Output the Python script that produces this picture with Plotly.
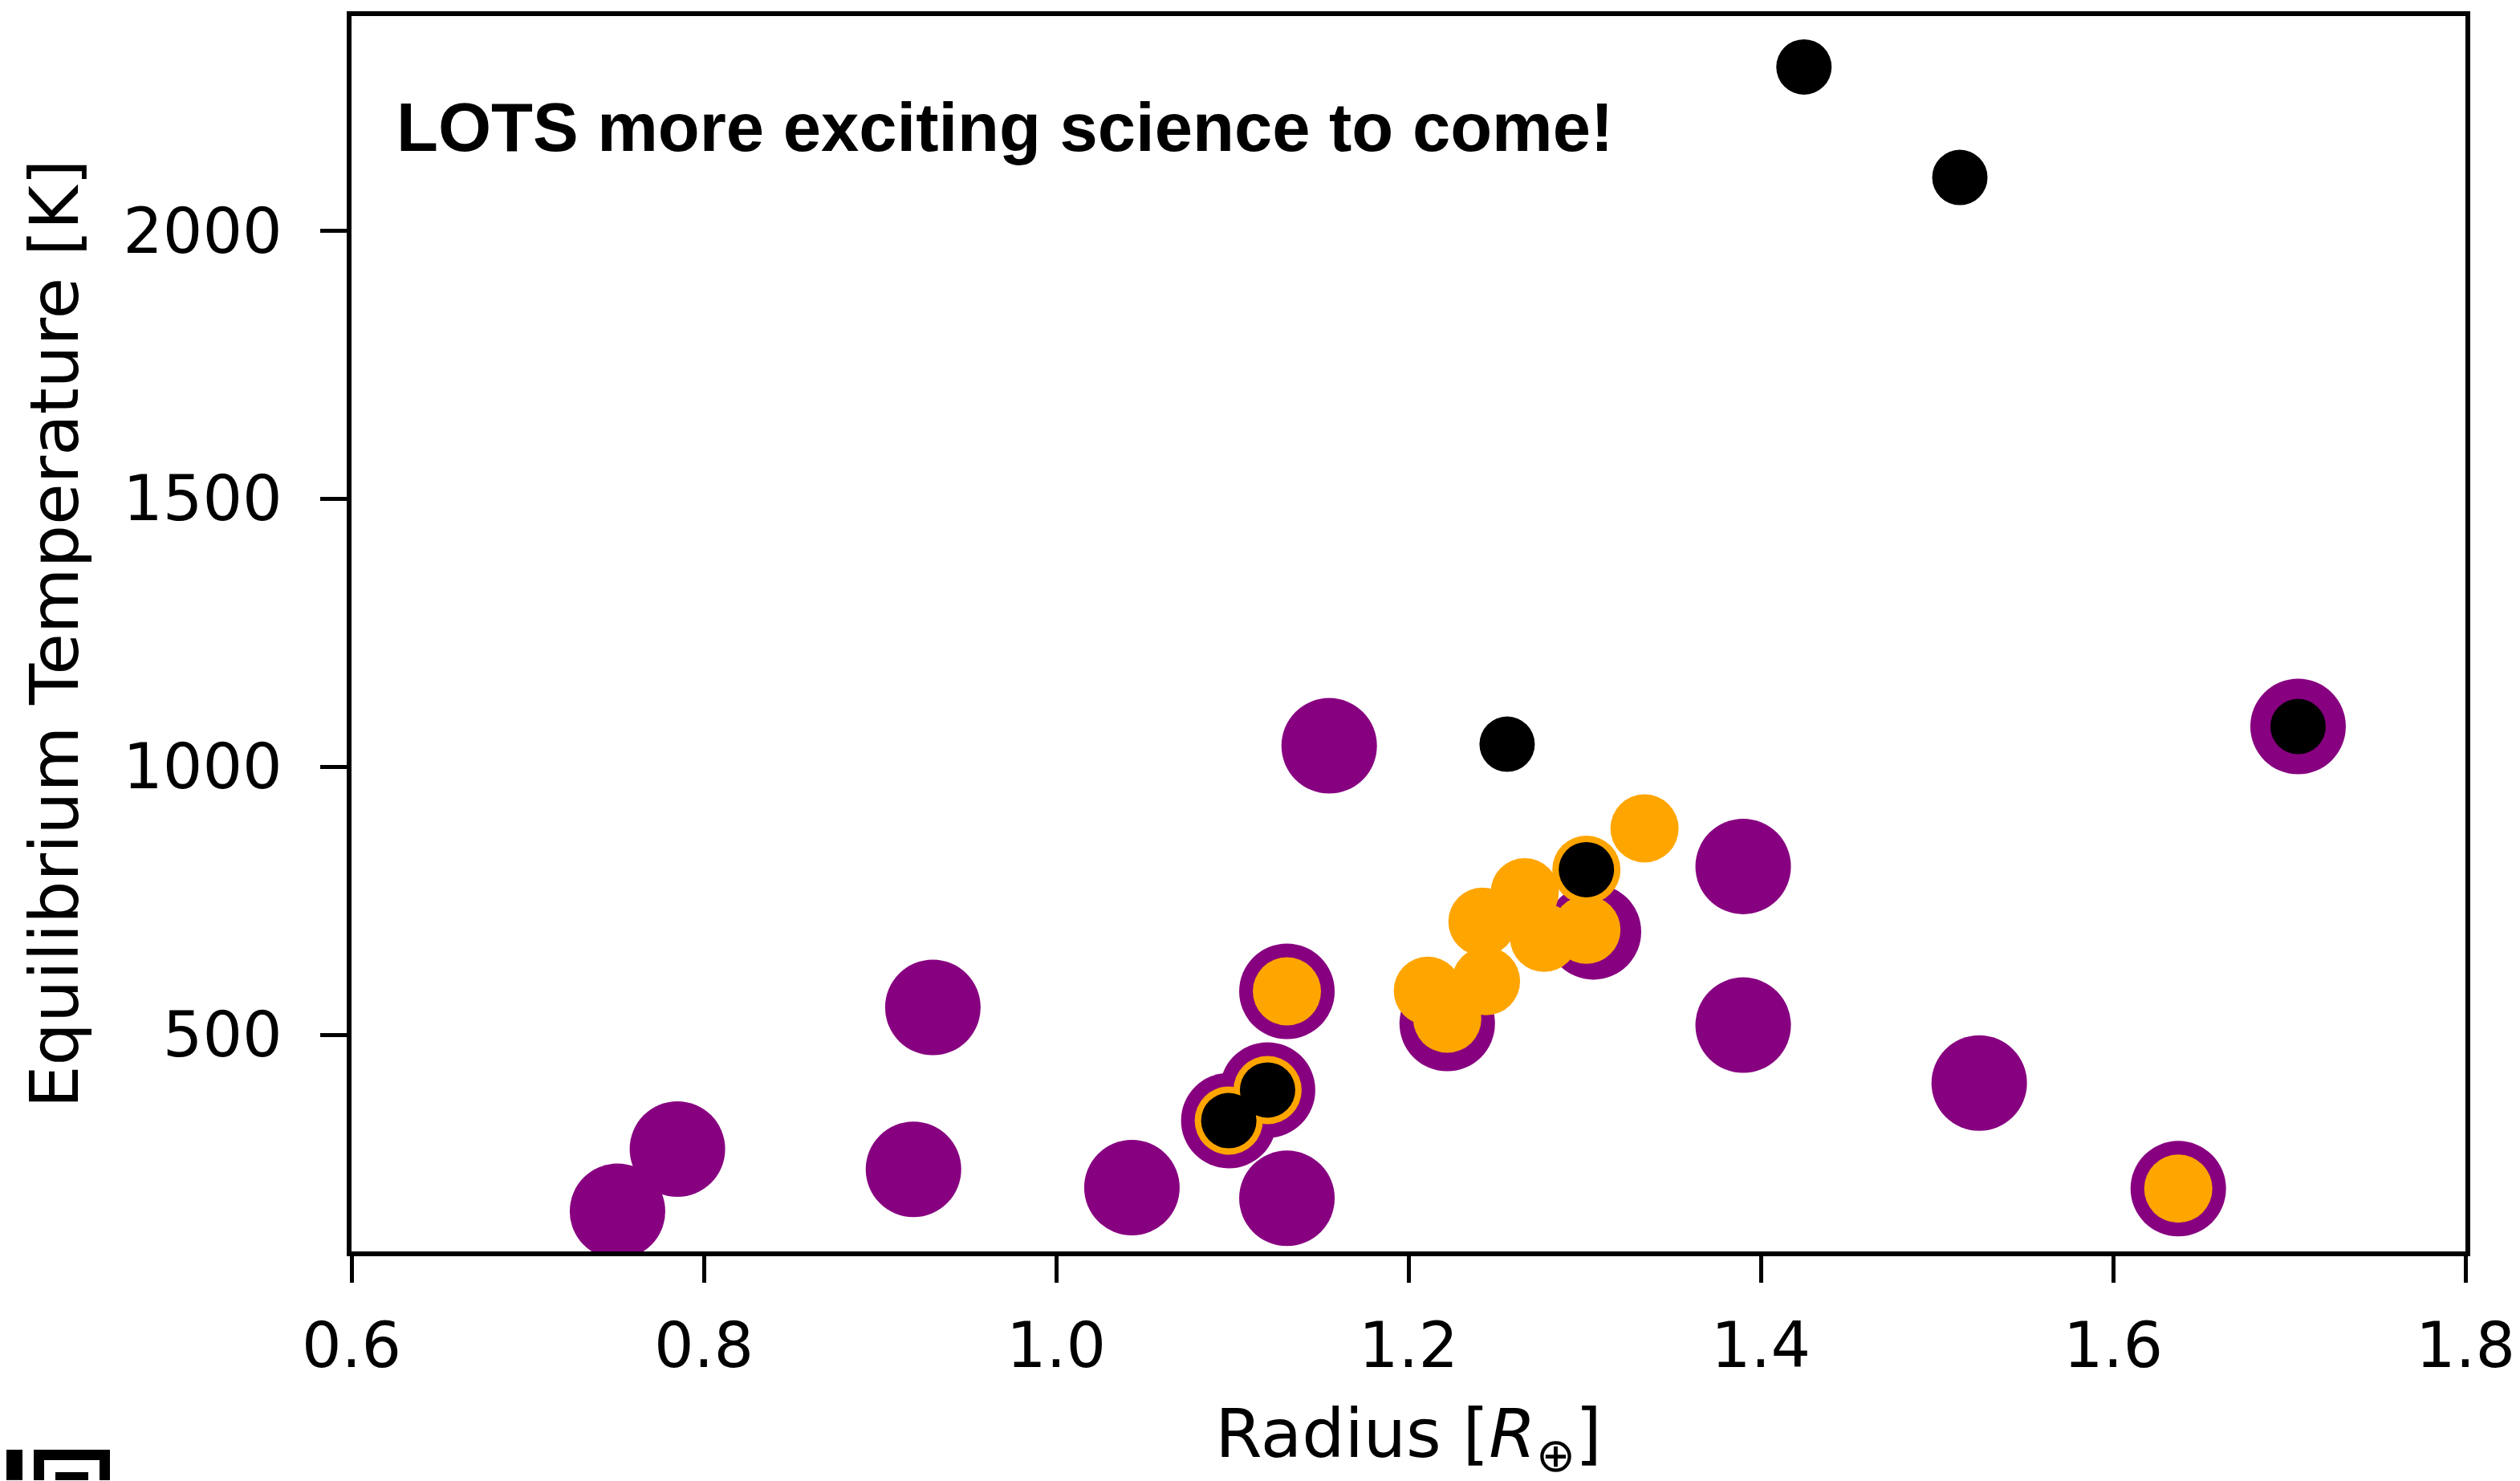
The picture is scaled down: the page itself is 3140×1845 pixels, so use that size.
import plotly.graph_objects as go

# Radius [R_earth] and equilibrium temperature [K]
purple_r = [0.751, 0.785, 0.919, 0.930, 1.043, 1.131, 1.155, 1.131, 1.098, 1.120,
            1.222, 1.305, 1.390, 1.390, 1.524, 1.637, 1.705]
purple_t = [171, 287, 249, 551, 215, 195, 1039, 581, 340, 397,
            521, 692, 814, 518, 410, 213, 1075]

orange_r = [1.131, 1.098, 1.120, 1.211, 1.222, 1.244, 1.242, 1.266, 1.277, 1.301,
            1.301, 1.334, 1.637]
orange_t = [581, 340, 397, 582, 530, 600, 711, 766, 681, 696,
            808, 885, 213]

black_r = [1.4245, 1.513, 1.256, 1.301, 1.098, 1.120, 1.705]
black_t = [2305, 2099, 1042, 808, 340, 397, 1075]

x_ticks = [0.6, 0.8, 1.0, 1.2, 1.4, 1.6, 1.8]
y_ticks = [500, 1000, 1500, 2000]

W, H = 3140, 1845
# page has an 8px body margin, so margins are shifted by that
L, R, T, B = 430, 76, 6, 294
OFF = 8

fig = go.Figure()

fig.add_trace(go.Scatter(x=purple_r, y=purple_t, mode='markers',
                         marker=dict(size=119, color='#870080', line=dict(width=0)),
                         showlegend=False))
fig.add_trace(go.Scatter(x=orange_r, y=orange_t, mode='markers',
                         marker=dict(size=85, color='#FFA500', line=dict(width=0)),
                         showlegend=False))
fig.add_trace(go.Scatter(x=black_r, y=black_t, mode='markers',
                         marker=dict(size=69, color='black', line=dict(width=0)),
                         showlegend=False))

fig.add_annotation(text='<b>LOTS more exciting science to come!</b>',
                   xref='paper', yref='paper', x=0.0206, y=0.9098,
                   xanchor='left', yanchor='middle', showarrow=False,
                   font=dict(family='Liberation Sans, Arial', size=85, color='black'))

plot_w = W - L - R
plot_h = H - T - B


# bit of a QR code peeking in at the bottom-left corner (page pixels)
def px(xp, yp):
    return (xp - OFF - L) / plot_w, (H - B - (yp - OFF)) / plot_h


for (x0, y0, x1, y1, c) in [(8, 1807, 28, 1845, 'black'),
                            (42, 1807, 137, 1845, 'black'),
                            (55, 1820, 124, 1845, 'white'),
                            (69, 1835, 110, 1845, 'black')]:
    a0, b0 = px(x0, y0)
    a1, b1 = px(x1, y1)
    fig.add_shape(type='rect', xref='paper', yref='paper', x0=a0, y0=b1, x1=a1, y1=b0,
                  fillcolor=c, line=dict(width=0), layer='above')

axis_common = dict(showline=True, linecolor='black', linewidth=5.5, mirror=True,
                   ticks='outside', ticklen=33, tickwidth=5, tickcolor='black',
                   showgrid=False, zeroline=False,
                   tickfont=dict(family='DejaVu Sans', size=78, color='black'),
                   title_font=dict(family='DejaVu Sans', size=84, color='black'))

fig.update_xaxes(range=[0.6, 1.8], tickvals=x_ticks,
                 ticktext=[f'{v:.1f}' for v in x_ticks],
                 ticklabelstandoff=12,
                 title_text='Radius [<i>R</i><sub>⊕</sub>]', title_standoff=38,
                 **axis_common)
fig.update_yaxes(range=[96, 2400], tickvals=y_ticks,
                 ticktext=[str(v) for v in y_ticks],
                 ticklabelstandoff=32,
                 title_text='Equilibrium Temperature [K]', title_standoff=30,
                 **axis_common)

fig.update_layout(width=W, height=H,
                  margin=dict(l=L, r=R, t=T, b=B),
                  plot_bgcolor='white', paper_bgcolor='white',
                  showlegend=False)

fig.write_html('out.html')
